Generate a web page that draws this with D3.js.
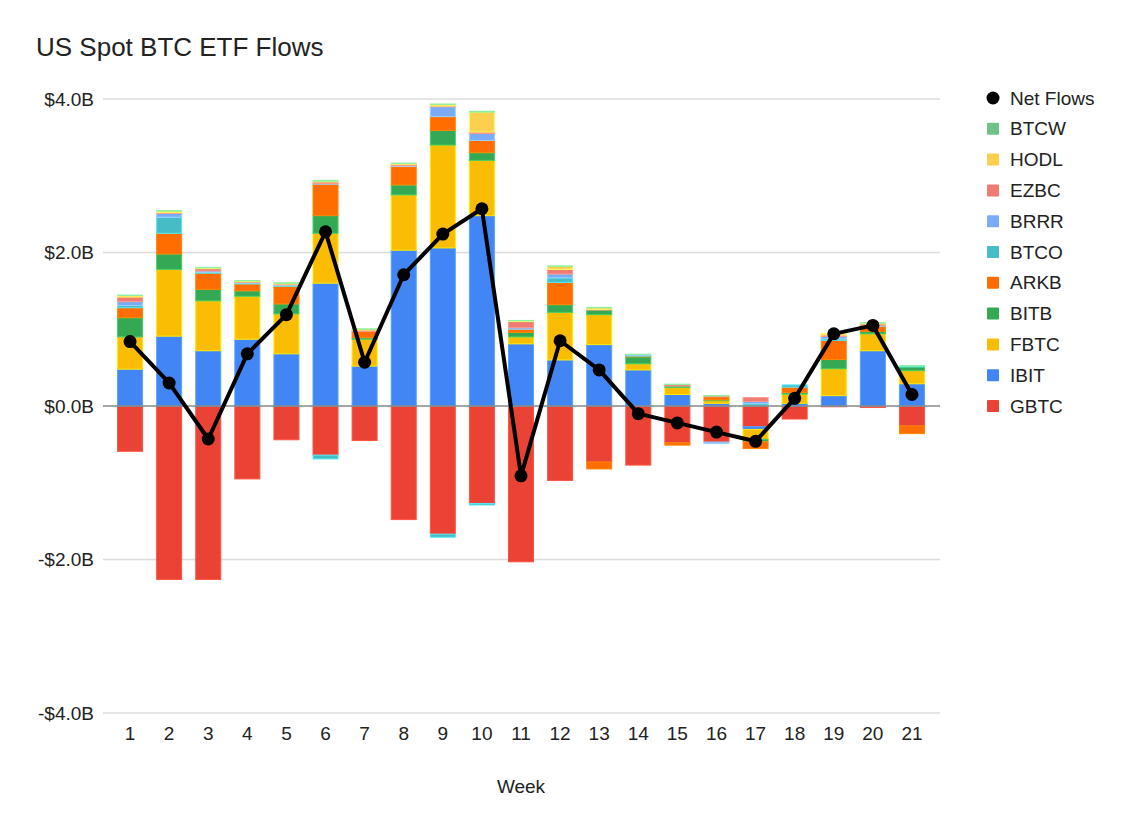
<!DOCTYPE html>
<html>
<head>
  <meta charset="UTF-8">
  <style>
    body { margin: 0; background: #fff; }
    svg text { font-family: "Liberation Sans", Arial, sans-serif; fill: #222; }
  </style>
</head>
<body>
<svg></svg>
<script src="https://d3js.org/d3.v7.min.js"></script>
<script>

let width = 1132, height = 835;
let svg = d3.select("svg")
    .attr("width", width)
    .attr("height", height)
    .attr("viewBox", "0 0 " + width + " " + height)

// weekly flows, $B
const weeks = d3.range(1, 22).map(String);
const GBTC = [-0.59,-2.26,-2.26,-0.95,-0.44,-0.64,-0.45,-1.48,-1.67,-1.27,-2.03,-0.97,-0.73,-0.77,-0.48,-0.47,-0.27,-0.17,-0.01,-0.02,-0.26];
const IBIT = [0.48,0.91,0.72,0.87,0.68,1.60,0.52,2.03,2.06,2.48,0.81,0.60,0.80,0.47,0.15,0.035,-0.035,0.035,0.135,0.72,0.29];
const FBTC = [0.42,0.87,0.65,0.56,0.52,0.65,0.35,0.72,1.34,0.72,0.09,0.62,0.39,0.08,0.09,0.035,-0.13,0.12,0.35,0.22,0.17];
const BITB = [0.25,0.20,0.15,0.07,0.13,0.23,0.02,0.13,0.19,0.10,0.06,0.10,0.06,0.09,0.02,0.01,-0.03,0.02,0.12,0.03,0.05];
const ARKB = [0.13,0.27,0.21,0.09,0.23,0.41,0.08,0.24,0.18,0.16,0.04,0.29,-0.09,0.01,-0.03,0.04,-0.09,0.07,0.25,0.07,-0.10];
const BTCO = [0.03,0.21,0.01,0.01,0.01,-0.05,0,0,-0.04,-0.02,0,0.06,0,0.01,0,0,0.03,0.03,0.02,0,0.01];
const BRRR = [0.05,0.05,0.02,0.01,0.01,0.01,0,0.01,0.13,0.09,0.02,0.05,0,0.01,0,-0.02,0.03,0,0.03,0.01,0];
const EZBC = [0.06,0.01,0.03,0.01,0.01,0.02,0.02,0.02,0.01,0.02,0.08,0.06,0.01,0,0.02,0.01,0.05,0,0.02,0.02,0];
const HODL = [0.02,0.02,0.01,0.01,0.01,0.01,0.01,0.01,0.02,0.26,0.01,0.04,0.02,0,0,0,0,0,0.02,0.01,0];
const BTCW = [0.005,0.005,0.005,0.005,0.005,0.01,0.005,0.005,0.005,0.01,0.005,0.005,0.005,0.005,0.005,0.005,0,0,0,0.005,0.005];
const netFlows = [0.84,0.30,-0.43,0.68,1.19,2.27,0.57,1.71,2.24,2.57,-0.91,0.85,0.47,-0.10,-0.22,-0.34,-0.46,0.10,0.94,1.05,0.15];

const yTicks = [-4, -2, 0, 2, 4];

const funds = ["GBTC","IBIT","FBTC","BITB","ARKB","BTCO","BRRR","EZBC","HODL","BTCW"];
const fundValues = {GBTC, IBIT, FBTC, BITB, ARKB, BTCO, BRRR, EZBC, HODL, BTCW};
const colors = ["#ea4335","#4285f4","#fbbc04","#34a853","#ff6d01","#46bdc6","#7baaf7","#f07b72","#fcd04f","#71c287"];

let rows = weeks.map((w, i) => {
  let r = {week: w};
  funds.forEach(f => r[f] = fundValues[f][i]);
  return r;
});

let x = d3.scaleBand().domain(weeks).range([110.5, 931.5]).paddingInner(0.36).paddingOuter(0.18);
let y = d3.scaleLinear().domain([-4, 4]).range([713, 99]);
let color = d3.scaleOrdinal().domain(funds).range(colors);

// title
svg.append("text").attr("x", 36).attr("y", 56).text("US Spot BTC ETF Flows").style("font-size", "26px")

// grid
svg.append("g").selectAll("line")
  .data(yTicks.filter(d => d != 0))
  .enter().append("line")
  .attr("x1", 103).attr("x2", 940)
  .attr("y1", d => y(d)).attr("y2", d => y(d))
  .attr("stroke", "#dcdcdc").attr("stroke-width", 1.5)

svg.append("g").selectAll("text")
  .data(yTicks)
  .enter().append("text")
  .attr("x", 94).attr("y", d => y(d))
  .attr("text-anchor", "end").attr("dominant-baseline", "central")
  .style("font-size", "19px")
  .text(d => (d < 0 ? "-" : "") + "$" + Math.abs(d).toFixed(1) + "B")

// bars
let series = d3.stack().keys(funds).offset(d3.stackOffsetDiverging)(rows);

svg.append("g").selectAll("g")
  .data(series)
  .enter().append("g")
  .attr("fill", d => color(d.key))
  .attr("stroke", d => d3.color(color(d.key)).brighter(0.6))
  .attr("stroke-width", 1)
  .selectAll("rect")
  .data(d => d)
  .enter().append("rect")
  .attr("x", d => x(d.data.week))
  .attr("width", x.bandwidth())
  .attr("y", d => y(Math.max(d[0], d[1])))
  .attr("height", d => Math.abs(y(d[0]) - y(d[1])))

// zero line
svg.append("line")
  .attr("x1", 103).attr("x2", 940)
  .attr("y1", y(0)).attr("y2", y(0))
  .attr("stroke", "#888").attr("stroke-width", 1.5)

// net flows line
let line = d3.line().x((d, i) => x(weeks[i]) + x.bandwidth() / 2).y(d => y(d));
svg.append("path")
  .datum(netFlows)
  .attr("d", line)
  .attr("fill", "none").attr("stroke", "black").attr("stroke-width", 4)
  .attr("stroke-linejoin", "round")

svg.append("g").selectAll("circle")
  .data(netFlows)
  .enter().append("circle")
  .attr("cx", (d, i) => x(weeks[i]) + x.bandwidth() / 2)
  .attr("cy", d => y(d))
  .attr("r", 6.5)
  .attr("fill", "black")

// x labels
svg.append("g").selectAll("text")
  .data(weeks)
  .enter().append("text")
  .attr("x", d => x(d) + x.bandwidth() / 2).attr("y", 740)
  .attr("text-anchor", "middle")
  .style("font-size", "19px")
  .text(d => d)

svg.append("text").attr("x", 521).attr("y", 793).attr("text-anchor", "middle").style("font-size", "19px").text("Week")

// legend
let legendItems = ["Net Flows"].concat(funds.slice().reverse());
let legend = svg.append("g").selectAll("g")
  .data(legendItems)
  .enter().append("g")
  .attr("transform", (d, i) => "translate(993," + (98 + i * 30.8) + ")")

legend.each(function (d) {
  let g = d3.select(this);
  if (d == "Net Flows") {
    g.append("circle").attr("r", 6.5).attr("fill", "black");
  } else {
    g.append("rect").attr("x", -6).attr("y", -6).attr("width", 12).attr("height", 12)
      .attr("rx", 1).attr("fill", color(d));
  }
  g.append("text").attr("x", 17).attr("dominant-baseline", "central").style("font-size", "19px").text(d);
})

</script>
</body>
</html>
